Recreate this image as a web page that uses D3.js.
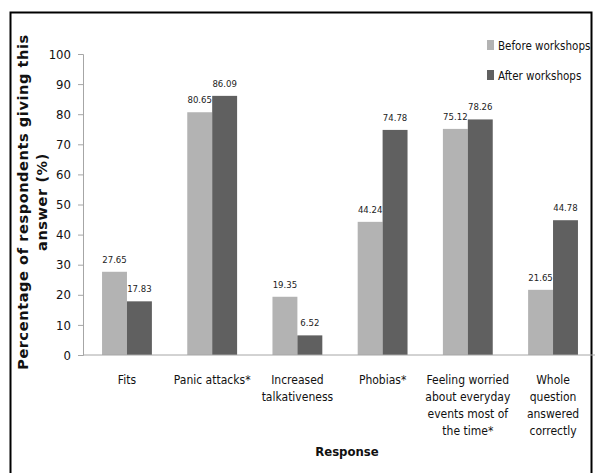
<!DOCTYPE html>
<html>
<head>
<meta charset="utf-8">
<script src="https://cdn.jsdelivr.net/npm/d3@7"></script>
<style>
  html, body { margin: 0; padding: 0; background: #fff; }
  svg { display: block; }
  .narrow { font-family: 'DejaVu Sans', sans-serif; font-stretch: condensed; }
</style>
</head>
<body>
<svg id="chart" width="598" height="473"></svg>
<script>
// Survey responses before and after the workshops (% of respondents)
const categories = [
  ["Fits"],
  ["Panic attacks*"],
  ["Increased", "talkativeness"],
  ["Phobias*"],
  ["Feeling worried", "about everyday", "events most of", "the time*"],
  ["Whole", "question", "answered", "correctly"]
];
const beforeValues = [27.65, 80.65, 19.35, 44.24, 75.12, 21.65];
const afterValues  = [17.83, 86.09, 6.52, 74.78, 78.26, 44.78];
const seriesNames  = ["Before workshops", "After workshops"];
const yTicks       = [0, 10, 20, 30, 40, 50, 60, 70, 80, 90, 100];

const colors = ["#b3b3b3", "#606060"];

const svg = d3.select("#chart");

// outer frame
svg.append("rect")
  .attr("x", 10.5).attr("y", 12.5)
  .attr("width", 581).attr("height", 480)
  .attr("fill", "none").attr("stroke", "#000").attr("stroke-width", 2);

const plot = { left: 83, right: 595, top: 54, bottom: 355 };

const x = d3.scaleBand()
  .domain(d3.range(categories.length))
  .range([plot.left + 2, plot.right])
  .paddingInner(0.415).paddingOuter(0.2);
const xs = d3.scaleBand().domain([0, 1]).range([0, x.bandwidth()]);
const y = d3.scaleLinear().domain([0, 100]).range([plot.bottom, plot.top]);

// bars
const groups = svg.append("g").selectAll("g")
  .data(categories.map((c, i) => ({ i, vals: [beforeValues[i], afterValues[i]] })))
  .join("g")
  .attr("transform", d => `translate(${x(d.i)},0)`);

groups.selectAll("rect")
  .data(d => d.vals.map((v, s) => ({ v, s })))
  .join("rect")
  .attr("x", d => xs(d.s))
  .attr("y", d => y(d.v))
  .attr("width", xs.bandwidth())
  .attr("height", d => y(0) - y(d.v))
  .attr("fill", d => colors[d.s]);

// value labels
groups.selectAll("text")
  .data(d => d.vals.map((v, s) => ({ v, s })))
  .join("text")
  .attr("class", "narrow")
  .attr("x", d => xs(d.s) + xs.bandwidth() / 2)
  .attr("y", d => y(d.v) - 9)
  .attr("text-anchor", "middle")
  .attr("font-size", 9.5)
  .attr("fill", "#222")
  .text(d => d.v.toFixed(2));

// y axis
const yAxis = svg.append("g")
  .attr("transform", `translate(${plot.left},0)`)
  .call(d3.axisLeft(y).tickValues(yTicks).tickSize(5).tickPadding(7));
yAxis.select(".domain").attr("stroke", "#a6a6a6");
yAxis.selectAll(".tick line").attr("stroke", "#a6a6a6");
yAxis.selectAll(".tick text")
  .attr("class", "narrow").attr("font-size", 13).attr("fill", "#111");

// x axis baseline
const xAxis = svg.append("g")
  .attr("transform", `translate(0,${plot.bottom})`)
  .call(d3.axisBottom(x).tickSize(0).tickFormat(""));
xAxis.select(".domain").attr("stroke", "#a6a6a6").attr("d", `M${plot.left},0H${plot.right}`);

// category labels
const catLabels = svg.append("g").selectAll("text")
  .data(categories.map((c, i) => ({ c, i })))
  .join("text")
  .attr("class", "narrow")
  .attr("x", d => x(d.i) + x.bandwidth() / 2)
  .attr("y", 384)
  .attr("text-anchor", "middle")
  .attr("font-size", 12)
  .attr("fill", "#111");
catLabels.selectAll("tspan")
  .data(d => d.c.map(line => ({ line, cx: x(d.i) + x.bandwidth() / 2 })))
  .join("tspan")
  .attr("x", d => d.cx)
  .attr("dy", (d, k) => k === 0 ? 0 : 17)
  .text(d => d.line);

// axis titles
svg.append("text")
  .attr("class", "narrow")
  .attr("x", (plot.left + plot.right) / 2 + 8)
  .attr("y", 456)
  .attr("text-anchor", "middle")
  .attr("font-weight", "bold")
  .attr("font-size", 13)
  .attr("fill", "#111")
  .text("Response");

const yTitle = svg.append("text")
  .attr("transform", "translate(0,202) rotate(-90)")
  .attr("text-anchor", "middle")
  .attr("font-family", "'DejaVu Sans', sans-serif")
  .attr("font-weight", "bold")
  .attr("font-size", 14.5)
  .attr("letter-spacing", 0.6)
  .attr("fill", "#111");
yTitle.append("tspan").attr("x", 0).attr("y", 28).text("Percentage of respondents giving this");
yTitle.append("tspan").attr("x", 0).attr("y", 47).text("answer (%)");

// legend
const legend = svg.append("g").selectAll("g")
  .data(seriesNames)
  .join("g")
  .attr("transform", (d, i) => `translate(487,${45 + i * 30})`);
legend.append("rect")
  .attr("x", 0).attr("y", -5)
  .attr("width", 7).attr("height", 10)
  .attr("fill", (d, i) => colors[i]);
legend.append("text")
  .attr("class", "narrow")
  .attr("x", 11).attr("y", 4.5)
  .attr("font-size", 11.5)
  .attr("fill", "#111")
  .text(d => d);
</script>
</body>
</html>
